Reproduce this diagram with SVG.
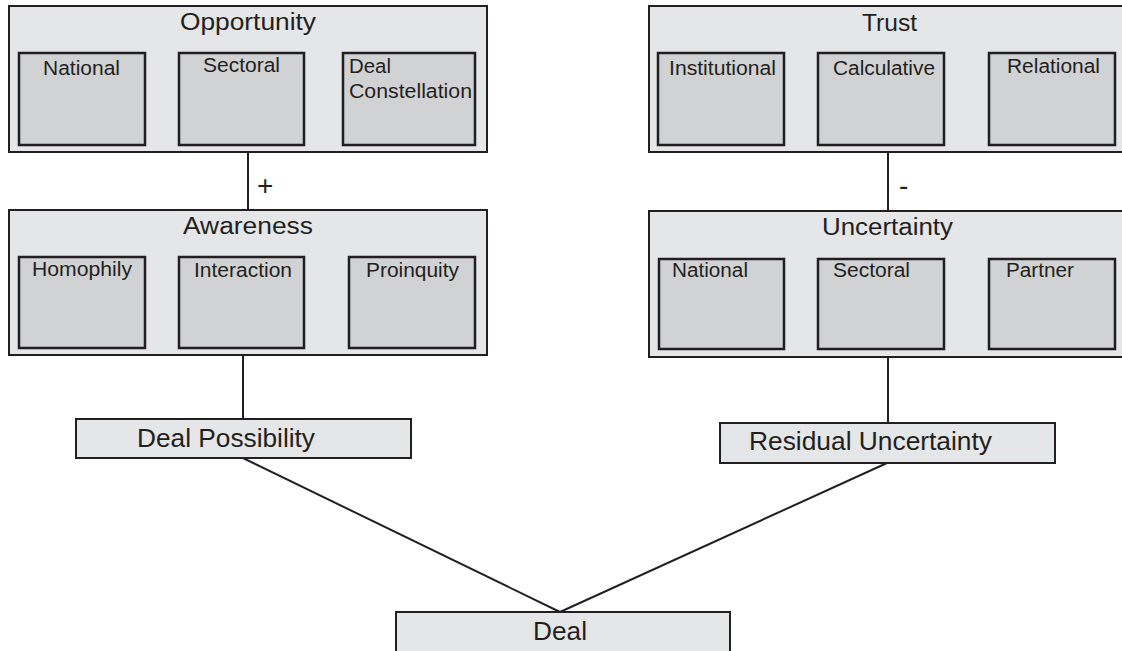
<svg xmlns="http://www.w3.org/2000/svg" width="1122" height="651" viewBox="0 0 1122 651">
<style>
.outer{fill:#e5e6e7;stroke:#231f20;stroke-width:2}
.inner{fill:#d1d2d4;stroke:#231f20;stroke-width:2.5}
.t{font-family:"Liberation Sans",Arial,sans-serif;fill:#231f20}
.title{font-size:23px}
.lab{font-size:20px}
.big{font-size:25px}
.sign{font-size:28px}
.con{stroke:#231f20;stroke-width:2;fill:none}
.thin{stroke:#231f20;stroke-width:1;fill:none}
</style>
<rect width="1122" height="651" fill="#ffffff"/>
<g id="connectors">
<line class="con" x1="248" y1="152" x2="248" y2="210"/>
<line class="con" x1="888" y1="152" x2="888" y2="211"/>
<line class="con" x1="243" y1="355" x2="243" y2="419"/>
<line class="con" x1="888" y1="357" x2="888" y2="423"/>
<line class="thin" x1="145" y1="302" x2="179" y2="302"/>
<line class="thin" x1="304" y1="302" x2="349" y2="302"/>
<line class="thin" x1="784" y1="302" x2="818" y2="302"/>
<line class="thin" x1="944" y1="302" x2="989" y2="302"/>
<line class="con" x1="243" y1="458" x2="560" y2="612"/>
<line class="con" x1="887" y1="463" x2="560" y2="612"/>
<text class="t sign" x="257" y="195">+</text>
<text class="t sign" x="899" y="195">-</text>
</g>
<g id="opportunity">
<rect class="outer" x="9" y="6" width="478" height="146"/>
<text class="t title" x="180" y="30" textLength="136" lengthAdjust="spacingAndGlyphs">Opportunity</text>
<rect class="inner" x="19" y="53" width="126" height="92"/>
<text class="t lab" x="43" y="75" textLength="77" lengthAdjust="spacingAndGlyphs">National</text>
<rect class="inner" x="179" y="53" width="125" height="92"/>
<text class="t lab" x="203" y="72" textLength="77" lengthAdjust="spacingAndGlyphs">Sectoral</text>
<rect class="inner" x="343" y="53" width="132" height="92"/>
<text class="t lab" x="349" y="73" textLength="42" lengthAdjust="spacingAndGlyphs">Deal</text>
<text class="t lab" x="349" y="98" textLength="123" lengthAdjust="spacingAndGlyphs">Constellation</text>
</g>
<g id="trust">
<rect class="outer" x="649" y="6" width="476" height="146"/>
<text class="t title" x="862" y="31" textLength="55" lengthAdjust="spacingAndGlyphs">Trust</text>
<rect class="inner" x="658" y="53" width="126" height="92"/>
<text class="t lab" x="669" y="75" textLength="107" lengthAdjust="spacingAndGlyphs">Institutional</text>
<rect class="inner" x="818" y="53" width="126" height="92"/>
<text class="t lab" x="833" y="75" textLength="102" lengthAdjust="spacingAndGlyphs">Calculative</text>
<rect class="inner" x="989" y="53" width="126" height="92"/>
<text class="t lab" x="1007" y="73" textLength="93" lengthAdjust="spacingAndGlyphs">Relational</text>
</g>
<g id="awareness">
<rect class="outer" x="9" y="210" width="478" height="145"/>
<text class="t title" x="183" y="234" textLength="130" lengthAdjust="spacingAndGlyphs">Awareness</text>
<rect class="inner" x="19" y="257" width="126" height="91"/>
<text class="t lab" x="32" y="276" textLength="100" lengthAdjust="spacingAndGlyphs">Homophily</text>
<rect class="inner" x="179" y="257" width="125" height="91"/>
<text class="t lab" x="194" y="277" textLength="98" lengthAdjust="spacingAndGlyphs">Interaction</text>
<rect class="inner" x="349" y="257" width="126" height="91"/>
<text class="t lab" x="366" y="277" textLength="93" lengthAdjust="spacingAndGlyphs">Proinquity</text>
</g>
<g id="uncertainty">
<rect class="outer" x="649" y="211" width="476" height="146"/>
<text class="t title" x="822" y="235" textLength="131" lengthAdjust="spacingAndGlyphs">Uncertainty</text>
<rect class="inner" x="659" y="259" width="125" height="90"/>
<text class="t lab" x="672" y="277" textLength="76" lengthAdjust="spacingAndGlyphs">National</text>
<rect class="inner" x="818" y="259" width="126" height="90"/>
<text class="t lab" x="833" y="277" textLength="77" lengthAdjust="spacingAndGlyphs">Sectoral</text>
<rect class="inner" x="989" y="259" width="126" height="90"/>
<text class="t lab" x="1006" y="277" textLength="68" lengthAdjust="spacingAndGlyphs">Partner</text>
</g>
<g id="deal-possibility">
<rect class="outer" x="76" y="419" width="335" height="39"/>
<text class="t big" x="137" y="447" textLength="178" lengthAdjust="spacingAndGlyphs">Deal Possibility</text>
</g>
<g id="residual-uncertainty">
<rect class="outer" x="720" y="423" width="335" height="40"/>
<text class="t big" x="749" y="450" textLength="243" lengthAdjust="spacingAndGlyphs">Residual Uncertainty</text>
</g>
<g id="deal">
<rect class="outer" x="396" y="612" width="334" height="45"/>
<text class="t big" x="533" y="640" textLength="54" lengthAdjust="spacingAndGlyphs">Deal</text>
</g>
</svg>
